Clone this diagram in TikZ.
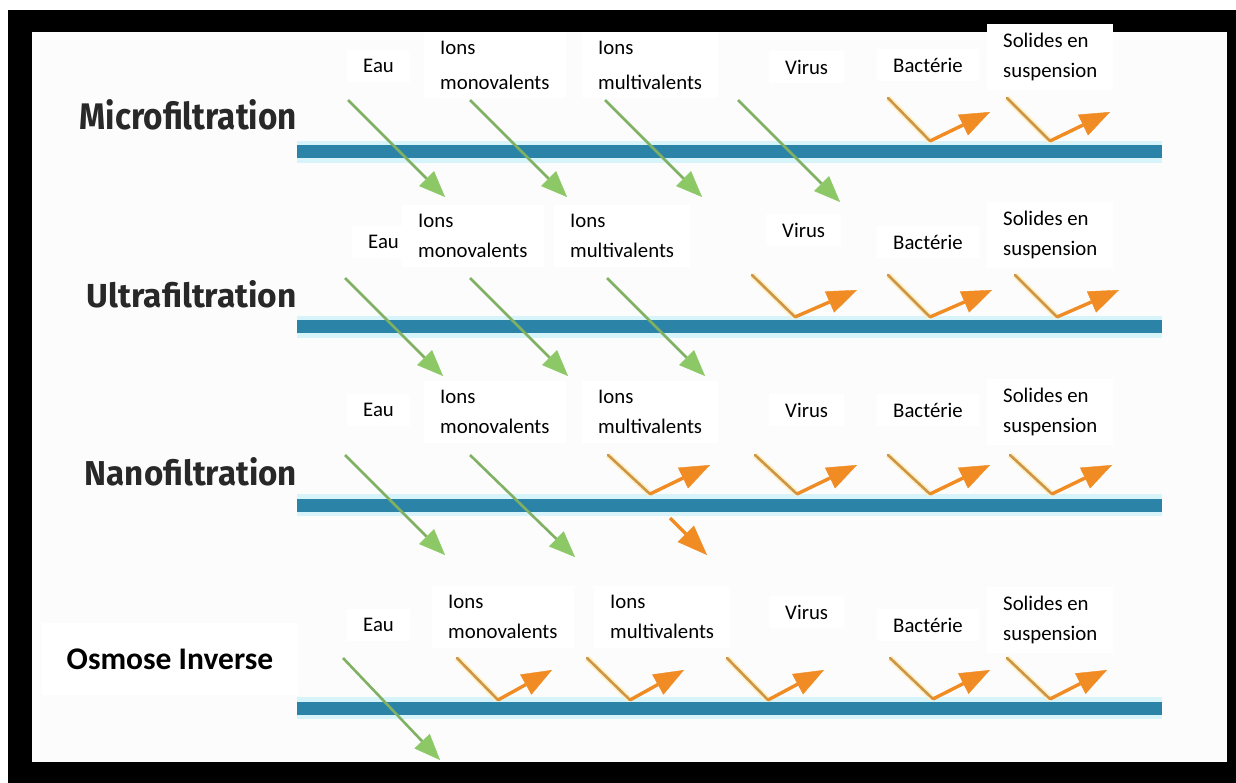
\documentclass[tikz,border=0pt]{standalone}
\usepackage{fontspec}
\setmainfont{Carlito}
\newfontfamily\titlefont{Fira Sans}
\usetikzlibrary{arrows.meta}
\definecolor{barblue}{RGB}{43,132,168}
\definecolor{glowcyan}{RGB}{214,244,250}
\definecolor{bgc}{RGB}{252,252,252}
\definecolor{gshaft}{RGB}{128,176,98}
\definecolor{ghead}{RGB}{140,200,102}
\definecolor{oshaft}{RGB}{205,150,70}
\definecolor{ohead}{RGB}{240,140,35}
\definecolor{ohalo}{RGB}{255,240,200}
\definecolor{ttlc}{RGB}{40,40,40}
\begin{document}
\begin{tikzpicture}[x=1pt,y=-1pt,
  glow/.style={line width=22pt,draw=glowcyan},
  barline/.style={line width=13pt,draw=barblue},
  passarrow/.style={draw=gshaft,line width=2.6pt,
    -{Triangle[length=26pt,width=21pt,line width=0.4pt,fill=ghead,color=ghead]}},
  rejin/.style={draw=oshaft,line width=2.6pt,line cap=round,
    preaction={draw=ohalo,line width=6pt}},
  rejout/.style={draw=ohead,line width=3.4pt,
    -{Triangle[length=30pt,width=23pt,line width=0.4pt,fill=ohead,color=ohead]}},
  lbl/.style={fill=white,inner xsep=16pt,inner ysep=9pt,align=left,anchor=west,
    font=\fontsize{20.8}{30}\selectfont},
  ttl/.style={inner sep=0pt,anchor=base east,text=ttlc}]
\useasboundingbox (0,0) rectangle (1236,783);
\fill[white] (0,0) rectangle (1236,783);
\fill[black] (8,10) rectangle (1236,783);
\fill[bgc] (32,32) rectangle (1227,762);

% membranes
\foreach \n/\y in {1/152,2/327,3/505,4/708}{
  \coordinate (m\n l) at (297,\y);
  \coordinate (m\n r) at (1162,\y);
  \draw[glow] (m\n l) -- (m\n r);
  \draw[barline] (m\n l) -- (m\n r);
}

% passing (green) arrows
\foreach \n/\xs/\ys/\xe/\ye in {
  a/348/100/445/197, b/470/100/567/197, c/605/100/702/197, d/738/100/840/202,
  e/345/278/443/376, f/470/278/568/376, g/607/278/705/376,
  h/345/455/445/555, i/470/455/575/557,
  j/343/658/440/760}{
  \coordinate (g\n s) at (\xs,\ys);
  \coordinate (g\n e) at (\xe,\ye);
  \draw[passarrow] (g\n s) -- (g\n e);
}

% rejected (orange) arrows
\foreach \n/\xs/\ys/\xv/\yv/\xe/\ye in {
  a/888/98/930/141/990/112, b/1007/98/1050/141/1110/112,
  c/752/275/795/317/857/290, d/888/275/930/317/992/290, e/1015/275/1057/317/1119/290,
  f/608/455/650/494/710/465, g/755/455/797/494/857/465, h/888/455/930/494/990/465, i/1010/455/1052/494/1112/465,
  j/457/658/498/700/552/670, k/587/658/630/700/684/670, l/727/658/768/700/824/670, m/890/658/933/699/990/670, n/1007/658/1050/699/1107/670}{
  \coordinate (o\n s) at (\xs,\ys);
  \coordinate (o\n v) at (\xv,\yv);
  \coordinate (o\n e) at (\xe,\ye);
  \draw[rejin] (o\n s) -- (o\n v);
  \draw[rejout] (o\n v) -- (o\n e);
}
\coordinate (pns) at (670,518);
\coordinate (pne) at (707,555);
\draw[rejout] (pns) -- (pne);

% titles
\node[ttl] (t1) at (297,130) {\resizebox{217pt}{30pt}{\titlefont\bfseries Microfiltration}};
\node[ttl] (t2) at (297,308) {\resizebox{210pt}{27pt}{\titlefont\bfseries Ultrafiltration}};
\node[ttl] (t3) at (297,485) {\resizebox{212pt}{28pt}{\titlefont\bfseries Nanofiltration}};
\node[fill=white,minimum width=256pt,minimum height=72pt,inner sep=0pt,
  font=\fontsize{31.5}{36}\selectfont\bfseries] (t4) at (170,659) {Osmose Inverse};

% labels row 1
\node[lbl] (l1a) at (347,66) {Eau};
\node[lbl,font=\fontsize{20.8}{35}\selectfont] (l1b) at (424,65) {Ions\\monovalents};
\node[lbl,font=\fontsize{20.8}{35}\selectfont] (l1c) at (582,65) {Ions\\multivalents};
\node[lbl] (l1d) at (769,67) {Virus};
\node[lbl] (l1e) at (877,65) {Bactérie};
\node[lbl] (l1f) at (987,57) {Solides en\\suspension};
% labels row 2
\node[lbl] (l2a) at (352,242) {Eau};
\node[lbl] (l2b) at (402,236) {Ions\\monovalents};
\node[lbl] (l2c) at (554,236) {Ions\\multivalents};
\node[lbl] (l2d) at (766,230) {Virus};
\node[lbl] (l2e) at (877,242) {Bactérie};
\node[lbl] (l2f) at (987,235) {Solides en\\suspension};
% labels row 3
\node[lbl] (l3a) at (347,410) {Eau};
\node[lbl] (l3b) at (424,412) {Ions\\monovalents};
\node[lbl] (l3c) at (582,412) {Ions\\multivalents};
\node[lbl] (l3d) at (769,410) {Virus};
\node[lbl] (l3e) at (877,410) {Bactérie};
\node[lbl] (l3f) at (987,412) {Solides en\\suspension};
% labels row 4
\node[lbl] (l4a) at (347,625) {Eau};
\node[lbl] (l4b) at (432,617) {Ions\\monovalents};
\node[lbl] (l4c) at (594,617) {Ions\\multivalents};
\node[lbl] (l4d) at (769,612) {Virus};
\node[lbl] (l4e) at (877,625) {Bactérie};
\node[lbl] (l4f) at (987,620) {Solides en\\suspension};
\end{tikzpicture}
\end{document}
